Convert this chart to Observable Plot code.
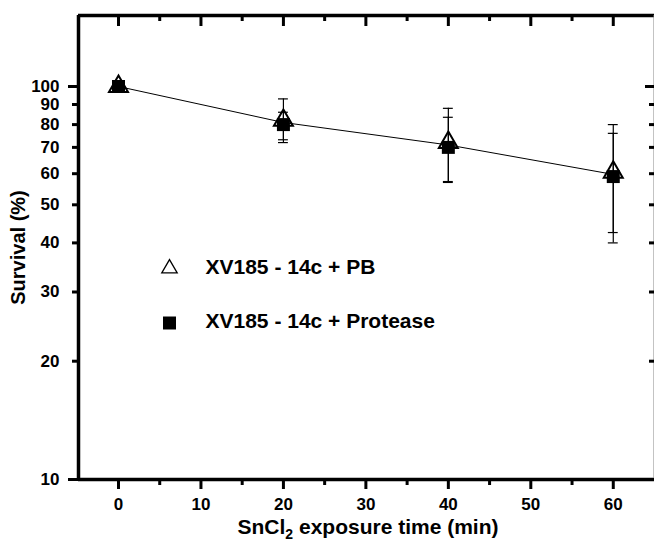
<!DOCTYPE html>
<html><head><meta charset="utf-8">
<script src="https://cdn.jsdelivr.net/npm/d3@7"></script>
<script src="https://cdn.jsdelivr.net/npm/@observablehq/plot@0.6"></script>
<style>
html,body{margin:0;padding:0;background:#fff;}
#chart svg{display:block;}
</style>
</head><body><div id="chart"></div>
<script>
// ---- data ----
const times = [0, 20, 40, 60];
const pbMean = [100, 82, 72, 60.5];
const pbHi = [100, 93, 88, 80];
const pbLo = [100, 72, 57, 40];
const protMean = [100, 80, 70, 59];
const protHi = [100, 86, 83.5, 76];
const protLo = [100, 73.2, 57.3, 42.5];
const xMajorTicks = [0, 10, 20, 30, 40, 50, 60];
const xMinorTicks = [5, 15, 25, 35, 45, 55];
const yTickLabels = [10, 20, 30, 40, 50, 60, 70, 80, 90, 100];
const yMajorTicks = [10, 100];
const yMinorTicks = [20, 30, 40, 50, 60, 70, 80, 90];
const legendLabels = ["XV185 - 14c + PB", "XV185 - 14c + Protease"];
const xTitleParts = ["SnCl", "2", " exposure time (min)"];
const yTitle = "Survival (%)";
const xDomain = [-4.85, 65];
const yDomain = [10, 151.6];

// ---- derived tables ----
const pb = times.map((t, i) => ({t, m: pbMean[i], hi: pbHi[i], lo: pbLo[i]}));
const prot = times.map((t, i) => ({t, m: protMean[i], hi: protHi[i], lo: protLo[i]}));
const bars = [...pb, ...prot];
const caps = bars.flatMap(d => [{t: d.t, v: d.hi}, {t: d.t, v: d.lo}]);
const lineRows = times.map((t, i) => ({t, v: (pbMean[i] + protMean[i]) / 2}));

const W = 654, H = 542, mL = 78, mR = 0, mT = 15, mB = 63;
const plotW = W - mL - mR, plotH = H - mT - mB;
const fmt = d => String(d);

const svg = Plot.plot({
  width: W, height: H,
  marginLeft: mL, marginRight: mR, marginTop: mT, marginBottom: mB,
  x: {domain: xDomain, axis: null},
  y: {type: "log", domain: yDomain, axis: null},
  style: {fontFamily: "'Liberation Sans', Arial, sans-serif", fontWeight: "bold", color: "#000", background: "#fff"},
  marks: [
    // frame
    Plot.ruleY([yDomain[0]], {y: d => d, stroke: "#000", strokeWidth: 3.5}),
    Plot.ruleY([yDomain[1]], {y: d => d, stroke: "#000", strokeWidth: 3.5}),
    Plot.ruleX([xDomain[0]], {x: d => d, stroke: "#000", strokeWidth: 3.5}),
    Plot.ruleX([xDomain[1]], {x: d => d, stroke: "#888", strokeWidth: 2}),
    // outward ticks bottom / left
    Plot.ruleX(xMajorTicks, {x: d => d, insetTop: plotH, insetBottom: -10, strokeWidth: 3}),
    Plot.ruleX(xMinorTicks, {x: d => d, insetTop: plotH, insetBottom: -6, strokeWidth: 3}),
    Plot.ruleY(yMajorTicks, {y: d => d, insetLeft: -10, insetRight: plotW, strokeWidth: 3}),
    Plot.ruleY(yMinorTicks, {y: d => d, insetLeft: -6, insetRight: plotW, strokeWidth: 3}),
    // tick labels
    Plot.text(xMajorTicks, {x: d => d, text: fmt, frameAnchor: "bottom", dy: 18, lineAnchor: "top", fontSize: 17, fontWeight: "bold", fill: "#000"}),
    Plot.text(yTickLabels, {y: d => d, text: fmt, frameAnchor: "left", dx: -19, textAnchor: "end", fontSize: 17, fontWeight: "bold", fill: "#000"}),
    // inward ticks top / right
    Plot.ruleX(xMajorTicks, {x: d => d, insetBottom: plotH - 11, strokeWidth: 3}),
    Plot.ruleX(xMinorTicks, {x: d => d, insetBottom: plotH - 6, strokeWidth: 3}),
    Plot.ruleY(yMajorTicks, {y: d => d, insetLeft: plotW - 9, strokeWidth: 3}),
    Plot.ruleY(yMinorTicks, {y: d => d, insetLeft: plotW - 5, strokeWidth: 3}),
    // connecting line
    Plot.line(lineRows, {x: "t", y: "v", stroke: "#000", strokeWidth: 1}),
    // error bars
    Plot.ruleX(bars, {x: "t", y1: "lo", y2: "hi", stroke: "#000", strokeWidth: 1.2}),
    Plot.ruleY(caps, {y: "v", x1: d => d.t - 0.6, x2: d => d.t + 0.6, stroke: "#000", strokeWidth: 1.2}),
    // markers
    Plot.dot(pb, {x: "t", y: "m", symbol: "triangle", r: 7.05, fill: "none", stroke: "#000", strokeWidth: 2}),
    Plot.dot(prot, {x: "t", y: "m", symbol: "square", r: 7.33, fill: "#000", stroke: "none"}),
    // legend
    Plot.dot([legendLabels[0]], {frameAnchor: "top-left", dx: 91, dy: 253, symbol: "triangle", r: 5.72, fill: "none", stroke: "#000", strokeWidth: 1.3}),
    Plot.dot([legendLabels[1]], {frameAnchor: "top-left", dx: 91, dy: 307.5, symbol: "square", r: 7.33, fill: "#000", stroke: "none"}),
    Plot.text([legendLabels[0]], {text: d => d, frameAnchor: "top-left", dx: 127, dy: 258, textAnchor: "start", lineAnchor: "bottom", fontSize: 21, fontWeight: "bold", fill: "#000"}),
    Plot.text([legendLabels[1]], {text: d => d, frameAnchor: "top-left", dx: 127, dy: 312.7, textAnchor: "start", lineAnchor: "bottom", fontSize: 21, fontWeight: "bold", fill: "#000"})
  ]
});

// axis titles (x title needs a subscript)
const s = d3.select(svg);
const xt = s.append("text")
  .attr("x", 368).attr("y", 534)
  .attr("text-anchor", "middle")
  .attr("font-size", 21).attr("font-weight", "bold").attr("fill", "#000");
xt.append("tspan").text(xTitleParts[0]);
xt.append("tspan").attr("font-size", 14).attr("dy", 5).text(xTitleParts[1]);
xt.append("tspan").attr("dy", -5).text(xTitleParts[2]);

s.append("text")
  .attr("transform", "translate(25,247.5) rotate(-90)")
  .attr("text-anchor", "middle")
  .attr("font-size", 20).attr("font-weight", "bold").attr("fill", "#000")
  .text(yTitle);

document.getElementById("chart").append(svg);
</script>
</body></html>
